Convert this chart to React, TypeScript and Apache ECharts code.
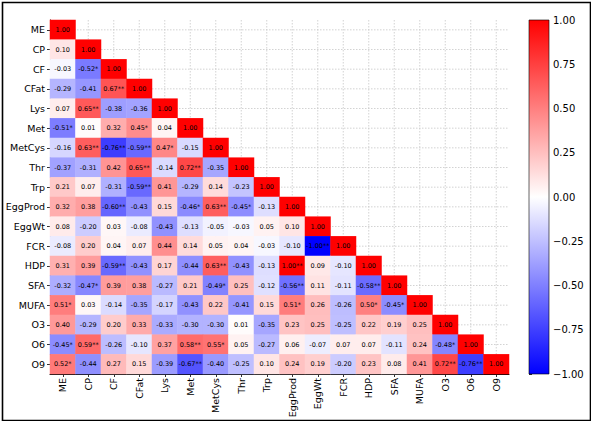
import React, { useEffect, useRef } from "react";
import * as echarts from "echarts";

const variables = ["ME", "CP", "CF", "CFat", "Lys", "Met", "MetCys", "Thr", "Trp", "EggProd", "EggWt", "FCR", "HDP", "SFA", "MUFA", "O3", "O6", "O9"];

// lower-triangle correlation coefficients, row by row (row i has i+1 values)
const corrRows: number[][] = [
  [1.0],
  [0.1, 1.0],
  [-0.03, -0.52, 1.0],
  [-0.29, -0.41, 0.67, 1.0],
  [0.07, 0.65, -0.38, -0.36, 1.0],
  [-0.51, 0.01, 0.32, 0.45, 0.04, 1.0],
  [-0.16, 0.63, -0.76, -0.59, 0.47, -0.15, 1.0],
  [-0.37, -0.31, 0.42, 0.65, -0.14, 0.72, -0.35, 1.0],
  [0.21, 0.07, -0.31, -0.59, 0.41, -0.29, 0.14, -0.23, 1.0],
  [0.32, 0.38, -0.6, -0.43, 0.15, -0.46, 0.63, -0.45, -0.13, 1.0],
  [0.08, -0.2, 0.03, -0.08, -0.43, -0.13, -0.05, -0.03, 0.05, 0.1, 1.0],
  [-0.08, 0.2, 0.04, 0.07, 0.44, 0.14, 0.05, 0.04, -0.03, -0.1, -1.0, 1.0],
  [0.31, 0.39, -0.59, -0.43, 0.17, -0.44, 0.63, -0.43, -0.13, 1.0, 0.09, -0.1, 1.0],
  [-0.32, -0.47, 0.39, 0.38, -0.27, 0.21, -0.49, 0.25, -0.12, -0.56, 0.11, -0.11, -0.58, 1.0],
  [0.51, 0.03, -0.14, -0.35, -0.17, -0.43, 0.22, -0.41, 0.15, 0.51, 0.26, -0.26, 0.5, -0.45, 1.0],
  [0.4, -0.29, 0.2, 0.33, -0.33, -0.3, -0.3, 0.01, -0.35, 0.23, 0.25, -0.25, 0.22, 0.19, 0.25, 1.0],
  [-0.45, 0.59, -0.26, -0.1, 0.37, 0.58, 0.55, 0.05, -0.27, 0.06, -0.07, 0.07, 0.07, -0.11, 0.24, -0.48, 1.0],
  [0.52, -0.44, 0.27, 0.15, -0.39, -0.67, -0.4, -0.25, 0.1, 0.24, 0.19, -0.2, 0.23, 0.08, 0.41, 0.72, -0.76, 1.0],
];

// significance stars (count of "*") for each coefficient above
const starRows: number[][] = [
  [0],
  [0, 0],
  [0, 1, 0],
  [0, 0, 2, 0],
  [0, 2, 0, 0, 0],
  [1, 0, 0, 1, 0, 0],
  [0, 2, 2, 2, 1, 0, 0],
  [0, 0, 0, 2, 0, 2, 0, 0],
  [0, 0, 0, 2, 0, 0, 0, 0, 0],
  [0, 0, 2, 0, 0, 1, 2, 1, 0, 0],
  [0, 0, 0, 0, 0, 0, 0, 0, 0, 0, 0],
  [0, 0, 0, 0, 0, 0, 0, 0, 0, 0, 2, 0],
  [0, 0, 2, 0, 0, 0, 2, 0, 0, 2, 0, 0, 0],
  [0, 1, 0, 0, 0, 0, 1, 0, 0, 2, 0, 0, 2, 0],
  [1, 0, 0, 0, 0, 0, 0, 0, 0, 1, 0, 0, 1, 1, 0],
  [0, 0, 0, 0, 0, 0, 0, 0, 0, 0, 0, 0, 0, 0, 0, 0],
  [1, 2, 0, 0, 0, 2, 1, 0, 0, 0, 0, 0, 0, 0, 0, 1, 0],
  [1, 0, 0, 0, 0, 2, 0, 0, 0, 0, 0, 0, 0, 0, 0, 2, 2, 0],
];

const colorbarMin = -1;
const colorbarMax = 1;
const colorbarStep = 0.25;
const bwrColors = ["#0000ff", "#ffffff", "#ff0000"];

const FONT = "DejaVu Sans";

export default function App() {
  const ref = useRef<HTMLDivElement>(null);

  useEffect(() => {
    if (!ref.current) return;
    const chart = echarts.init(ref.current, null, { renderer: "svg" });

    const heatData: number[][] = [];
    corrRows.forEach((row, r) => {
      row.forEach((v, c) => {
        heatData.push([c, r, v]);
      });
    });

    const option: any = {
      animation: false,
      backgroundColor: "#ffffff",
      textStyle: { fontFamily: FONT },
      grid: [
        { left: 50, top: 20, width: 459, height: 354, containLabel: false },
        { left: 529, top: 20, width: 20, height: 354, containLabel: false },
      ],
      xAxis: [
        {
          type: "category",
          gridIndex: 0,
          data: variables,
          position: "bottom",
          axisLine: { show: true, lineStyle: { color: "#000", width: 1 } },
          axisTick: { show: true, alignWithLabel: true, length: 3, lineStyle: { color: "#000", width: 0.8 } },
          axisLabel: { rotate: 90, fontSize: 9.5, color: "#000", fontFamily: FONT, margin: 4, interval: 0 },
          splitLine: { show: false },
        },
        { type: "value", gridIndex: 1, min: 0, max: 1, show: false },
      ],
      yAxis: [
        {
          type: "category",
          gridIndex: 0,
          data: variables,
          inverse: true,
          axisLine: { show: true, lineStyle: { color: "#000", width: 1 } },
          axisTick: { show: true, alignWithLabel: true, length: 3, lineStyle: { color: "#000", width: 0.8 } },
          axisLabel: { fontSize: 9.5, color: "#000", fontFamily: FONT, margin: 5, interval: 0 },
          splitLine: { show: false },
        },
        {
          type: "value",
          gridIndex: 1,
          min: colorbarMin,
          max: colorbarMax,
          interval: colorbarStep,
          position: "right",
          axisLine: { show: false },
          axisTick: { show: true, length: 3, lineStyle: { color: "#000", width: 0.8 } },
          axisLabel: {
            fontSize: 10,
            color: "#000",
            fontFamily: FONT,
            margin: 4,
            formatter: (v: number) => v.toFixed(2).replace("-", "\u2212"),
          },
          splitLine: { show: false },
        },
      ],
      visualMap: {
        show: false,
        type: "continuous",
        min: colorbarMin,
        max: colorbarMax,
        seriesIndex: 1,
        dimension: 2,
        inRange: { color: bwrColors },
      },
      series: [
        {
          type: "custom",
          xAxisIndex: 0,
          yAxisIndex: 0,
          z: 1,
          silent: true,
          data: variables.map((_, i) => [i, i]),
          renderItem: (params: any, api: any) => {
            const p = api.coord([api.value(0), api.value(1)]);
            const cs = params.coordSys;
            const style = { stroke: "#c8c8c8", lineWidth: 0.8, lineDash: [1.5, 1.5], fill: null };
            return {
              type: "group",
              children: [
                { type: "line", shape: { x1: p[0], y1: cs.y, x2: p[0], y2: cs.y + cs.height }, style },
                { type: "line", shape: { x1: cs.x, y1: p[1], x2: cs.x + cs.width, y2: p[1] }, style },
              ],
            };
          },
        },
        {
          type: "heatmap",
          xAxisIndex: 0,
          yAxisIndex: 0,
          z: 2,
          data: heatData,
          label: {
            show: true,
            fontSize: 6.5,
            color: "#000",
            fontFamily: FONT,
            formatter: (p: any) => {
              const [c, r, v] = p.value;
              return v.toFixed(2) + "*".repeat(starRows[r][c]);
            },
          },
          itemStyle: { borderWidth: 0 },
          emphasis: { disabled: true },
        },
        {
          type: "custom",
          xAxisIndex: 1,
          yAxisIndex: 1,
          silent: true,
          data: [[0, 0]],
          renderItem: (params: any) => {
            const cs = params.coordSys;
            return {
              type: "rect",
              shape: { x: cs.x, y: cs.y, width: cs.width, height: cs.height },
              style: {
                fill: new echarts.graphic.LinearGradient(0, 0, 0, 1, [
                  { offset: 0, color: bwrColors[2] },
                  { offset: 0.5, color: bwrColors[1] },
                  { offset: 1, color: bwrColors[0] },
                ]),
                stroke: "#000",
                lineWidth: 0.6,
              },
            };
          },
        },
      ],
      graphic: [
        {
          type: "rect",
          left: 0,
          top: 0,
          shape: { x: 0, y: 0, width: 588, height: 418 },
          style: { fill: "none", stroke: "#000", lineWidth: 1.6 },
          silent: true,
          z: 100,
        },
      ],
    };

    chart.setOption(option);
    return () => chart.dispose();
  }, []);

  return (
    <div
      ref={ref}
      style={{ position: "absolute", left: 0, top: 0, width: 591, height: 421 }}
    />
  );
}
